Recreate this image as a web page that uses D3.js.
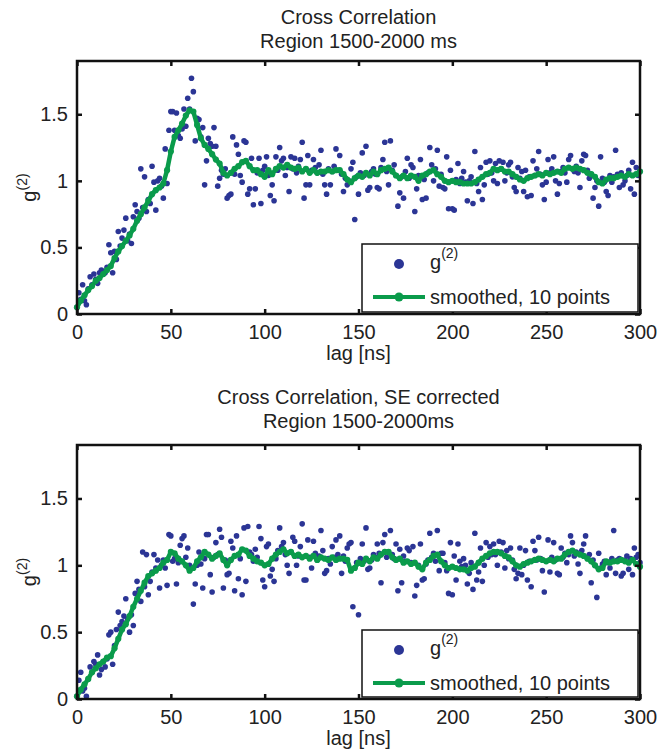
<!DOCTYPE html>
<html><head><meta charset="utf-8">
<script src="https://cdn.jsdelivr.net/npm/d3@7"></script>
<style>body{margin:0;background:#fff} text{font-family:"Liberation Sans",Arial,Helvetica,sans-serif;fill:#222}</style>
</head><body><svg id="c" width="658" height="756"></svg>
<script>
// ---- data ----
const xTicks = [0, 50, 100, 150, 200, 250, 300];
const xTickLabels = ["0", "50", "100", "150", "200", "250", "300"];
const yTicks = [0, 0.5, 1, 1.5];
const yTickLabels = ["0", "0.5", "1", "1.5"];
const titlesTop = ["Cross Correlation", "Region 1500-2000 ms"];
const titlesBottom = ["Cross Correlation, SE corrected", "Region 1500-2000ms"];
const xLabel = "lag [ns]";
const legendLabels = ["g", "smoothed, 10 points"];

// g(2) raw points, one per ns lag 0..300
const g2Top = [
0.05,0.16,0.11,0.22,0.10,0.07,0.19,0.28,0.22,0.30,
0.26,0.23,0.31,0.33,0.30,0.31,0.35,0.52,0.46,0.31,
0.47,0.41,0.62,0.51,0.57,0.63,0.72,0.55,0.60,0.53,
0.73,0.82,0.77,0.72,1.09,0.80,1.03,0.77,0.86,0.83,
1.11,0.99,0.78,1.00,1.02,0.96,0.87,1.24,0.98,1.38,
1.52,1.52,1.38,1.51,1.34,1.32,1.39,1.54,1.41,1.62,
1.54,1.77,1.67,1.30,1.47,1.46,1.33,1.40,0.97,1.15,
1.32,1.28,1.26,1.40,1.26,0.96,1.02,1.08,1.05,1.09,
0.87,0.89,0.90,1.33,1.05,1.27,1.20,1.04,0.99,1.30,
1.29,0.90,0.94,1.17,0.82,0.94,1.06,1.17,0.83,1.08,
1.11,1.18,1.04,0.89,0.97,0.85,1.18,1.08,1.25,1.15,
1.17,1.04,1.10,0.92,1.18,1.09,1.17,1.06,1.11,1.16,
1.29,0.87,0.97,1.19,0.97,1.08,1.16,1.10,1.06,1.12,
1.23,1.05,0.97,0.90,1.09,0.97,1.07,1.11,1.24,1.08,
1.19,1.05,0.92,1.02,0.97,1.00,1.09,1.14,0.71,1.03,
0.90,1.06,1.21,1.04,1.26,0.93,0.95,1.07,1.09,1.05,
0.95,0.94,1.10,1.16,1.29,1.07,0.97,1.30,1.08,1.12,
1.04,0.81,0.91,1.03,0.87,1.07,1.17,1.02,1.12,1.10,
0.77,0.94,1.04,1.16,0.86,1.01,0.87,1.06,1.25,1.12,
1.00,1.09,1.23,0.96,1.05,0.95,0.94,1.18,0.79,1.08,
0.79,0.78,1.01,1.13,0.98,1.02,1.07,0.99,0.85,1.00,
1.03,0.83,1.22,0.98,0.92,1.10,0.86,0.97,1.14,1.05,
1.15,1.06,1.00,1.13,0.98,1.15,1.09,1.14,1.00,1.06,
1.12,1.14,1.03,0.95,0.92,1.10,1.02,1.07,0.92,1.08,
0.88,1.03,0.89,1.15,1.04,1.09,1.22,1.05,0.97,0.86,
0.99,1.16,1.06,1.09,1.18,1.00,0.90,0.98,1.07,1.10,
1.06,0.99,1.16,1.19,1.09,1.07,1.11,1.06,0.95,1.15,
1.20,1.19,1.08,1.02,1.05,0.87,0.95,1.00,0.81,1.18,
1.02,0.99,0.92,0.89,1.04,0.99,1.03,1.23,1.05,0.95,
1.06,0.97,1.00,1.04,1.08,0.94,1.14,0.90,1.10,1.04,
1.07];

const g2Bottom = [
0.02,0.14,0.20,0.06,0.08,0.02,0.15,0.24,0.20,0.28,
0.26,0.33,0.18,0.22,0.28,0.24,0.30,0.48,0.50,0.26,
0.40,0.52,0.65,0.55,0.58,0.62,0.75,0.60,0.50,0.63,
0.55,0.79,0.88,0.82,0.73,1.10,0.84,1.08,0.78,0.88,
0.95,1.08,0.98,1.04,0.83,1.00,1.04,0.98,0.85,1.23,
1.22,1.03,1.05,0.86,1.02,1.15,1.20,1.22,1.06,1.13,
1.00,0.98,0.71,0.86,1.00,1.10,1.01,0.83,1.05,1.23,
1.23,0.93,0.80,1.06,1.17,1.08,1.27,1.21,0.83,1.04,
0.93,0.94,1.18,1.13,0.81,1.22,0.90,1.05,0.78,1.28,
0.88,1.29,1.10,1.08,1.03,1.12,1.06,1.29,1.20,0.89,
0.84,1.14,1.16,0.92,0.97,0.88,1.05,1.11,1.28,1.14,
1.17,1.08,1.00,0.94,1.10,1.21,1.18,1.00,1.07,1.14,
1.31,0.89,0.89,1.19,1.06,0.98,1.18,1.09,1.04,1.07,
1.26,1.11,0.94,0.96,1.05,1.01,1.14,1.06,1.19,1.08,
1.22,0.94,1.07,1.03,1.13,1.16,1.17,0.69,0.98,1.02,
0.63,1.05,1.16,1.03,1.28,0.97,0.98,1.04,1.08,1.06,
1.16,1.09,0.87,1.17,1.23,1.06,1.10,1.26,1.08,1.05,
1.16,0.81,1.12,0.87,1.07,1.03,1.13,1.11,1.02,1.14,
0.77,0.85,1.00,1.16,0.89,0.90,1.01,1.04,1.24,1.06,
1.09,1.03,1.26,0.96,1.09,1.09,1.02,0.96,0.79,1.17,
0.78,1.07,0.89,1.16,1.03,0.99,1.05,1.00,0.86,0.94,
1.02,0.82,1.24,0.89,0.95,1.13,0.88,1.00,1.17,1.06,
1.14,1.08,1.16,1.08,1.00,1.18,1.10,1.17,0.98,1.11,
1.05,1.13,1.04,0.97,0.90,0.94,1.13,0.93,1.00,1.11,
0.89,1.03,0.84,1.18,1.11,1.04,1.21,1.05,0.96,0.80,
1.03,1.19,0.95,1.06,1.17,1.04,0.94,0.93,1.13,1.06,
1.09,1.02,1.08,1.22,1.17,1.07,1.10,1.01,0.94,1.11,
1.16,1.22,1.06,1.08,0.87,1.04,1.00,0.76,1.09,0.98,
1.01,1.03,0.93,1.02,0.98,1.05,1.26,0.94,1.04,1.05,
0.92,0.94,1.04,1.07,0.97,1.05,0.93,1.13,1.06,1.08,
1.02];

// smoothed curve, read every 2 ns (lag 0,2,...,300)
const smoothTop = [
0.05,0.10,0.14,0.18,0.21,0.25,0.27,0.30,0.33,0.36,
0.42,0.47,0.51,0.55,0.59,0.64,0.70,0.75,0.80,0.85,
0.90,0.93,0.95,0.98,1.08,1.22,1.33,1.38,1.43,1.49,
1.53,1.52,1.42,1.32,1.27,1.24,1.20,1.16,1.13,1.06,
1.04,1.06,1.09,1.11,1.14,1.15,1.11,1.08,1.08,1.05,
1.03,1.08,1.05,1.09,1.11,1.10,1.12,1.10,1.09,1.10,
1.07,1.09,1.06,1.08,1.06,1.07,1.07,1.08,1.07,1.08,
1.08,1.05,1.01,0.99,1.02,1.04,1.03,1.06,1.04,1.07,
1.05,1.08,1.09,1.10,1.07,1.04,1.02,1.04,1.02,1.04,
1.03,1.00,1.04,1.05,1.07,1.08,1.05,1.03,1.00,0.99,
1.00,0.99,0.99,0.98,0.98,0.98,0.99,1.01,1.03,1.05,
1.06,1.09,1.08,1.09,1.07,1.07,1.05,1.03,1.01,1.00,
1.02,1.03,1.04,1.05,1.04,1.06,1.05,1.06,1.07,1.06,
1.09,1.10,1.09,1.10,1.09,1.08,1.06,1.05,1.03,0.99,
0.98,1.01,1.02,1.02,1.03,1.04,1.03,1.05,1.04,1.05,
1.07];

const smoothBottom = [
0.02,0.07,0.11,0.15,0.20,0.23,0.26,0.28,0.31,0.32,
0.38,0.45,0.52,0.56,0.62,0.69,0.75,0.81,0.87,0.92,
0.94,0.96,0.98,1.02,1.04,1.10,1.09,1.05,1.03,1.00,
0.96,0.98,1.03,1.06,1.10,1.08,1.05,1.07,1.09,1.04,
1.00,1.04,1.07,1.08,1.12,1.11,1.07,1.05,1.03,1.02,
1.00,1.01,1.05,1.08,1.10,1.12,1.09,1.10,1.07,1.08,
1.06,1.07,1.05,1.07,1.04,1.06,1.05,1.04,1.06,1.04,
1.05,1.05,1.04,0.96,0.98,1.02,1.01,1.05,1.03,1.06,
1.05,1.08,1.10,1.10,1.06,1.04,1.05,1.02,1.03,1.01,
1.02,0.99,0.97,1.02,1.04,1.07,1.08,1.03,1.00,0.98,
0.99,0.98,0.97,0.97,0.96,0.98,0.99,1.02,1.05,1.07,
1.09,1.10,1.10,1.09,1.07,1.06,1.03,1.00,0.99,1.01,
1.02,1.03,1.04,1.05,1.04,1.03,1.04,1.03,1.05,1.05,
1.08,1.10,1.11,1.09,1.08,1.07,1.05,1.03,1.00,0.97,
0.98,1.03,1.02,1.03,1.03,1.04,1.03,1.02,1.04,1.01,
0.99];

const rawLags = d3.range(0, 301, 1);
const smoothLags = d3.range(0, 301, 2);

// ---- drawing ----
const blue = "#2b3595", green = "#0a9b4b";
const svg = d3.select("#c");
const left = 77, right = 640;

const panels = [
  {titles: titlesTop, g2: g2Top, smooth: smoothTop, top: 61, bottom: 314, titleY: [24, 48],
   legend: {x: 362, y: 244, w: 276, h: 68}},
  {titles: titlesBottom, g2: g2Bottom, smooth: smoothBottom, top: 445, bottom: 699, titleY: [404, 428],
   legend: {x: 362, y: 630, w: 276, h: 67}}
];

panels.forEach(p => {
  const x = d3.scaleLinear().domain([0, 300]).range([left, right]);
  const y = d3.scaleLinear().domain([0, 1.9]).range([p.bottom, p.top]);
  const g = svg.append("g");

  p.titles.forEach((t, i) => g.append("text").attr("x", (left + right) / 2).attr("y", p.titleY[i])
    .attr("text-anchor", "middle").attr("font-size", 20).text(t));

  g.append("g").selectAll("circle").data(p.g2).join("circle")
    .attr("cx", (d, i) => x(rawLags[i])).attr("cy", d => y(d)).attr("r", 2.8).attr("fill", blue);

  const line = d3.line().x((d, i) => x(smoothLags[i])).y(d => y(d));
  g.append("path").datum(p.smooth).attr("d", line).attr("fill", "none")
    .attr("stroke", green).attr("stroke-width", 4.5).attr("stroke-linejoin", "round");
  g.append("g").selectAll("circle").data(p.smooth).join("circle")
    .attr("cx", (d, i) => x(smoothLags[i])).attr("cy", d => y(d)).attr("r", 3.1).attr("fill", green);

  const fmtX = (d, i) => xTickLabels[i];
  const fmtY = (d, i) => yTickLabels[i];
  const ax = [
    g.append("g").attr("transform", `translate(0,${p.bottom})`)
      .call(d3.axisBottom(x).tickValues(xTicks).tickFormat(fmtX).tickSizeInner(-5).tickSizeOuter(0).tickPadding(11)),
    g.append("g").attr("transform", `translate(0,${p.top})`)
      .call(d3.axisTop(x).tickValues(xTicks).tickFormat("").tickSizeInner(-5).tickSizeOuter(0)),
    g.append("g").attr("transform", `translate(${left},0)`)
      .call(d3.axisLeft(y).tickValues(yTicks).tickFormat(fmtY).tickSizeInner(-5).tickSizeOuter(0).tickPadding(9)),
    g.append("g").attr("transform", `translate(${right},0)`)
      .call(d3.axisRight(y).tickValues(yTicks).tickFormat("").tickSizeInner(-5).tickSizeOuter(0))
  ];
  ax.forEach(a => {
    a.select(".domain").remove();
    a.selectAll("line").attr("stroke", "#111").attr("stroke-width", 2.5);
    a.selectAll("text").attr("font-size", 20).attr("fill", "#222")
      .style("font-family", '"Liberation Sans",Arial,sans-serif');
  });

  g.append("text").attr("x", (left + right) / 2).attr("y", p.bottom + 46)
    .attr("text-anchor", "middle").attr("font-size", 20).text(xLabel);

  const yl = g.append("text").attr("text-anchor", "middle").attr("font-size", 20)
    .attr("transform", `translate(36,${(p.top + p.bottom) / 2}) rotate(-90)`);
  yl.append("tspan").text("g");
  yl.append("tspan").attr("font-size", 14).attr("dy", -9).text("(2)");

  const L = p.legend;
  const lg = g.append("g");
  lg.append("rect").attr("x", L.x).attr("y", L.y).attr("width", L.w).attr("height", L.h)
    .attr("fill", "#fff").attr("stroke", "#111").attr("stroke-width", 1.5);
  const r1 = L.y + 20, r2 = L.y + 53;
  lg.append("circle").attr("cx", L.x + 37).attr("cy", r1).attr("r", 5).attr("fill", blue);
  const t1 = lg.append("text").attr("x", L.x + 68).attr("y", r1 + 5).attr("font-size", 20);
  t1.append("tspan").text(legendLabels[0]);
  t1.append("tspan").attr("font-size", 14).attr("dy", -11).text("(2)");
  lg.append("line").attr("x1", L.x + 11).attr("x2", L.x + 63).attr("y1", r2).attr("y2", r2)
    .attr("stroke", green).attr("stroke-width", 4);
  lg.append("circle").attr("cx", L.x + 37).attr("cy", r2).attr("r", 4.5).attr("fill", green);
  lg.append("text").attr("x", L.x + 68).attr("y", r2 + 7).attr("font-size", 20).text(legendLabels[1]);

  g.append("rect").attr("x", left).attr("y", p.top).attr("width", right - left).attr("height", p.bottom - p.top)
    .attr("fill", "none").attr("stroke", "#111").attr("stroke-width", 2.5);
});
</script>
</body></html>
